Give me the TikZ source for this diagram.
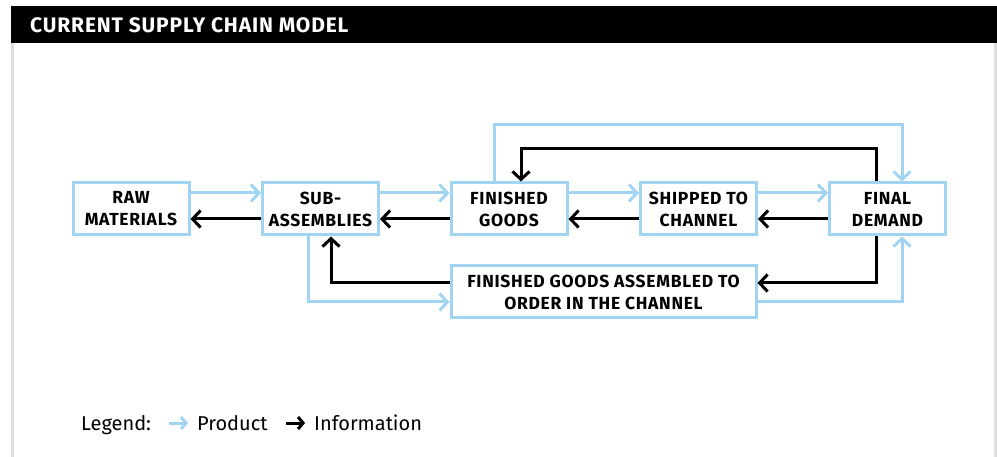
\documentclass[tikz,border=0pt]{standalone}
\usepackage{fontspec}
\setmainfont{Fira Sans}
\newfontfamily\labelfont[LetterSpace=4]{Fira Sans}
\usetikzlibrary{arrows.meta}

\definecolor{pblue}{RGB}{160,212,242}
\definecolor{frame}{RGB}{222,222,222}

\tikzset{
  stagebox/.style={draw=pblue, line width=3pt, fill=white, inner sep=0pt,
    minimum width=116pt, minimum height=52pt, align=center,
    font=\labelfont\fontsize{17.5}{22}\selectfont\bfseries},
  barb/.style={-{Straight Barb[length=8pt,width=17pt]}},
  prod/.style={barb, draw=pblue, line width=3pt},
  info/.style={barb, draw=black, line width=3pt},
}

\begin{document}
\begin{tikzpicture}[x=1pt, y=-1pt]
  \useasboundingbox (0,0) rectangle (997,457);
  \fill[white] (0,0) rectangle (997,457);

  % page frame and heading bar
  \fill[frame] (11,43) rectangle (14,457);
  \fill[frame] (994,43) rectangle (997,457);
  \fill[black] (11,6) rectangle (997,43);
  \node[anchor=base west, text=white, inner sep=0pt,
        font=\labelfont\fontsize{21}{24}\selectfont\bfseries] (title) at (30,33)
        {CURRENT SUPPLY CHAIN MODEL};

  % stages
  \node[stagebox] (raw)  at (131,209)   {RAW\\MATERIALS};
  \node[stagebox] (sub)  at (320.5,209) {SUB-\\ASSEMBLIES};
  \node[stagebox] (fg)   at (509,209)   {FINISHED\\GOODS};
  \node[stagebox] (ship) at (698.5,209) {SHIPPED TO\\CHANNEL};
  \node[stagebox] (fd)   at (887.5,209) {FINAL\\DEMAND};
  \node[stagebox, minimum width=305pt] (asm) at (603.5,292)
        {FINISHED GOODS ASSEMBLED TO\\ORDER IN THE CHANNEL};

  % corner points of the two upper loops
  \coordinate (ptop) at (902,125);
  \coordinate (itop) at (521,149);

  % product flow (upper) and information flow (lower) between neighbours
  \draw[prod] ([yshift=16pt]raw.east)  -- ([yshift=16pt]sub.west);
  \draw[prod] ([yshift=16pt]sub.east)  -- ([yshift=16pt]fg.west);
  \draw[prod] ([yshift=16pt]fg.east)   -- ([yshift=16pt]ship.west);
  \draw[prod] ([yshift=16pt]ship.east) -- ([yshift=16pt]fd.west);
  \draw[info] ([yshift=-10pt]sub.west) -- ([yshift=-10pt]raw.east);
  \draw[info] ([yshift=-10pt]fg.west)  -- ([yshift=-10pt]sub.east);
  \draw[info] ([yshift=-10pt]ship.west) -- ([yshift=-10pt]fg.east);
  \draw[info] ([yshift=-10pt]fd.west)  -- ([yshift=-10pt]ship.east);

  % loops over the top
  \draw[prod] ([xshift=-15pt]fg.north) |- (ptop) -- ([xshift=14.5pt]fd.north);
  \draw[info] ([xshift=-11.5pt]fd.north) |- (itop) -- ([xshift=12pt]fg.north);

  % assemble-to-order path below
  \draw[prod] ([xshift=-12.5pt]sub.south) |- ([yshift=-10pt]asm.west);
  \draw[prod] ([yshift=-10pt]asm.east) -| ([xshift=14.5pt]fd.south);
  \draw[info] ([xshift=-11.5pt]fd.south) |- ([yshift=9pt]asm.east);
  \draw[info] ([yshift=9pt]asm.west) -| ([xshift=10.5pt]sub.south);

  % legend
  \node[anchor=base west, inner sep=0pt, font=\fontsize{20}{24}\selectfont]
        (lg) at (81,430) {Legend:};
  \node[anchor=base west, inner sep=0pt, font=\fontsize{20}{24}\selectfont]
        (lp) at (197,430) {Product};
  \node[anchor=base west, inner sep=0pt, font=\fontsize{20}{24}\selectfont]
        (li) at (314,430) {Information};
  \coordinate (lpa) at (169,423);
  \coordinate (lpb) at (188,423);
  \coordinate (lia) at (286,423);
  \coordinate (lib) at (305,423);
  \draw[draw=pblue, line width=3pt, -{Straight Barb[length=5pt,width=12pt]}] (lpa) -- (lpb);
  \draw[draw=black, line width=3pt, -{Straight Barb[length=5pt,width=12pt]}] (lia) -- (lib);
\end{tikzpicture}
\end{document}
